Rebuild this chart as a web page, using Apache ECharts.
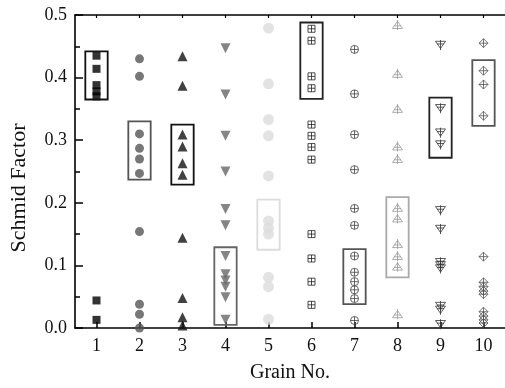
<!DOCTYPE html>
<html>
<head>
<meta charset="utf-8">
<script src="https://cdn.jsdelivr.net/npm/echarts@6/dist/echarts.min.js"></script>
<style>html,body{margin:0;padding:0;background:#fff;}#c{width:505px;height:388px;}</style>
</head>
<body>
<div id="c"></div>
<script>
var grains = ['1','2','3','4','5','6','7','8','9','10'];
var yTicks = [0.0, 0.1, 0.2, 0.3, 0.4, 0.5];

var g1 = [0.435, 0.414, 0.388, 0.378, 0.370, 0.044, 0.013];
var g2 = [0.430, 0.402, 0.310, 0.287, 0.270, 0.247, 0.154, 0.038, 0.022, 0.0];
var g3 = [0.434, 0.387, 0.309, 0.290, 0.263, 0.245, 0.144, 0.048, 0.017, 0.004];
var g4 = [0.447, 0.373, 0.307, 0.250, 0.190, 0.164, 0.115, 0.086, 0.076, 0.066, 0.049, 0.013];
var g5 = [0.479, 0.390, 0.333, 0.307, 0.243, 0.171, 0.160, 0.150, 0.081, 0.066, 0.014];
var g6 = [0.478, 0.459, 0.402, 0.383, 0.325, 0.307, 0.289, 0.269, 0.150, 0.111, 0.074, 0.037];
var g7 = [0.445, 0.374, 0.309, 0.253, 0.191, 0.164, 0.115, 0.089, 0.074, 0.061, 0.047, 0.012];
var g8 = [0.484, 0.406, 0.350, 0.290, 0.270, 0.192, 0.175, 0.134, 0.115, 0.098, 0.022];
var g9 = [0.452, 0.351, 0.312, 0.293, 0.188, 0.158, 0.105, 0.100, 0.095, 0.035, 0.029, 0.006];
var g10 = [0.455, 0.411, 0.389, 0.339, 0.114, 0.073, 0.066, 0.059, 0.054, 0.026, 0.019, 0.013, 0.008];

// highlighted range boxes per grain: low and high
var boxLow  = [0.365, 0.237, 0.229, 0.005, 0.125, 0.366, 0.038, 0.081, 0.272, 0.323];
var boxHigh = [0.442, 0.330, 0.325, 0.129, 0.205, 0.488, 0.126, 0.209, 0.368, 0.428];

var groups = [g1, g2, g3, g4, g5, g6, g7, g8, g9, g10];

// styles
var FONT = '"Liberation Serif", "Times New Roman", serif';
var markerStyles = [
  {symbol:'rect', size:8, color:'#000', open:false},
  {symbol:'circle', size:9, color:'#555', open:false},
  {symbol:'triangle', size:10, color:'#111', open:false},
  {symbol:'triangle', size:10, color:'#666', open:false, rotate:180},
  {symbol:'circle', size:11, color:'#dcdcdc', open:false},
  {symbol:'path://M0,0L10,0L10,10L0,10Z M5,0L5,10 M0,5L10,5', size:7, color:'#222', open:true},
  {symbol:'path://M10,5A5,5 0 1 1 0,5A5,5 0 1 1 10,5Z M5,0L5,10 M0,5L10,5', size:8, color:'#444', open:true},
  {symbol:'path://M5,0L10,8.66L0,8.66Z M5,-1.5L5,10.5 M1.5,5.5L8.5,5.5', size:10, color:'#999', open:true},
  {symbol:'path://M0,0L10,0L5,8.66Z M5,-1.5L5,10.5 M1.5,3.2L8.5,3.2', size:10, color:'#333', open:true},
  {symbol:'path://M5,0L10,5L5,10L0,5Z M5,0L5,10 M0,5L10,5', size:9, color:'#555', open:true}
];
var boxColors = ['#111','#555','#111','#666','#dcdcdc','#222','#555','#aaa','#222','#555'];

var series = [];
groups.forEach(function(vals, i){
  var m = markerStyles[i];
  series.push({
    type:'scatter',
    xAxisIndex:0, yAxisIndex:0,
    symbol:m.symbol,
    symbolSize:m.size,
    symbolRotate:m.rotate || 0,
    itemStyle: m.open ? {color:'rgba(0,0,0,0)', borderColor:m.color, borderWidth:1} : {color:m.color},
    data: vals.map(function(v){ return [i, v]; }),
    z:3
  });
});

var boxData = grains.map(function(g, i){ return [i, boxLow[i], boxHigh[i]]; });
series.push({
  type:'custom',
  xAxisIndex:0, yAxisIndex:0,
  data: boxData,
  renderItem: function(params, api){
    var idx = api.value(0);
    var pTop = api.coord([idx, api.value(2)]);
    var pBot = api.coord([idx, api.value(1)]);
    var w = api.size([1, 0])[0] * 0.52;
    return {
      type:'rect',
      shape:{x:pTop[0]-w/2, y:pTop[1], width:w, height:pBot[1]-pTop[1]},
      style:{fill:'none', stroke:boxColors[params.dataIndex], lineWidth:1.8}
    };
  },
  z:4
});

var chart = echarts.init(document.getElementById('c'), null, {renderer:'canvas'});
chart.setOption({
  animation:false,
  backgroundColor:'#fff',
  grid:{left:75, right:-1, top:15, bottom:59, containLabel:false},
  xAxis:[{
    type:'category', data:grains, position:'bottom', boundaryGap:true,
    name:'Grain No.', nameLocation:'middle', nameGap:35,
    nameTextStyle:{fontFamily:FONT, fontSize:20, color:'#111'},
    axisLine:{show:true, lineStyle:{color:'#000', width:1.6}},
    axisTick:{show:true, inside:true, alignWithLabel:true, length:6, lineStyle:{color:'#000', width:1.5}},
    axisLabel:{fontFamily:FONT, fontSize:18, color:'#111', margin:9},
    splitLine:{show:false}
  },{
    type:'category', data:grains, position:'top', boundaryGap:true,
    axisLine:{show:true, lineStyle:{color:'#000', width:1.6}},
    axisTick:{show:true, inside:true, alignWithLabel:true, length:3, lineStyle:{color:'#000', width:1.2}},
    axisLabel:{show:false},
    splitLine:{show:false}
  }],
  yAxis:[{
    type:'value', min:0, max:0.5, interval:0.1,
    axisLine:{show:true, lineStyle:{color:'#000', width:1.6}},
    axisTick:{show:true, inside:true, length:8, lineStyle:{color:'#000', width:1.5}},
    minorTick:{show:true, splitNumber:2, length:5, lineStyle:{color:'#000', width:1.5}},
    axisLabel:{fontFamily:FONT, fontSize:18, color:'#111', margin:8,
      formatter:function(v){ return v.toFixed(1); }},
    splitLine:{show:false}
  }],
  graphic:[{
    type:'text', x:19, y:188, rotation:Math.PI/2,
    style:{text:'Schmid Factor', fontFamily:FONT, fontSize:22, fill:'#111', align:'center', verticalAlign:'middle'}
  }],
  series:series
});
</script>
</body>
</html>
